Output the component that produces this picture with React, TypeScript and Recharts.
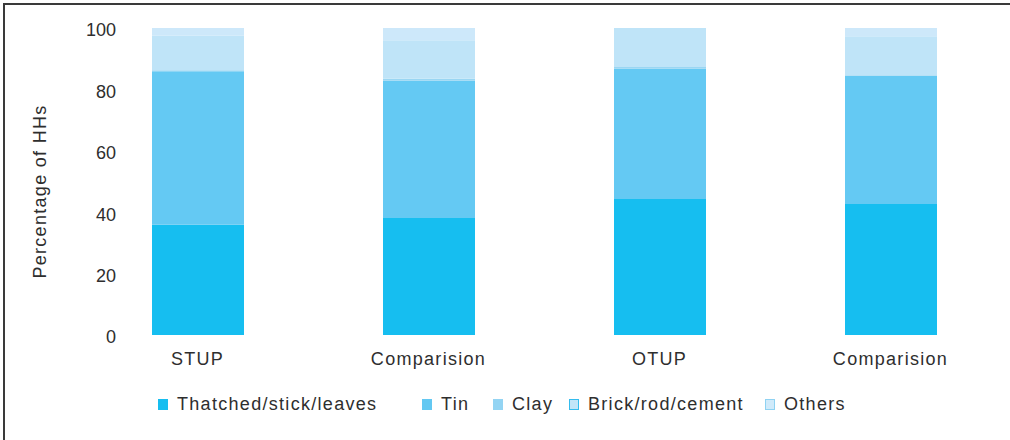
import React from 'react';
import { BarChart, Bar, XAxis, YAxis } from 'recharts';

const categories = ['STUP', 'Comparision', 'OTUP', 'Comparision'];
const thatched = [35.9, 38.1, 44.3, 42.7];
const tin = [50.0, 44.7, 42.4, 41.7];
const clay = [0.3, 0.7, 0.6, 0.2];
const brick = [11.3, 12.5, 12.7, 12.7];
const others = [2.5, 4.0, 0, 2.7];
const yTicks = [0, 20, 40, 60, 80, 100];
const seriesNames = ['Thatched/stick/leaves', 'Tin', 'Clay', 'Brick/rod/cement', 'Others'];

const data = categories.map((name, i) => ({
  name,
  thatched: thatched[i],
  tin: tin[i],
  clay: clay[i],
  brick: brick[i],
  others: others[i],
}));

const FONT = '"Liberation Sans", Arial, Helvetica, sans-serif';
const TEXT = '#2e2e2e';
const LS = 1.3;

const barFills = ['#16BEF0', '#64C9F3', '#9AD6F3', '#BFE4F8', '#CDE8FA'];
const legendFills = ['#16BEF0', '#63C8F2', '#93D4F3', '#C2E5F8', '#D0EAFA'];
const legendStrokes = ['#16BEF0', '#63C8F2', '#93D4F3', '#35BCEE', '#8FD2F2'];
const keys = ['thatched', 'tin', 'clay', 'brick', 'others'];

const YTick = (props: any) => {
  const { y, payload } = props;
  return (
    <text x={116} y={y + 2} dy="0.355em" textAnchor="end" fontSize={18} fill={TEXT} fontFamily={FONT}>
      {payload.value}
    </text>
  );
};

const XTick = (props: any) => {
  const { x, y, payload } = props;
  return (
    <text
      x={x}
      y={y}
      dy="0.71em"
      textAnchor="middle"
      fontSize={18}
      fill={TEXT}
      fontFamily={FONT}
      style={{ letterSpacing: `${LS}px` }}
    >
      {payload.value}
    </text>
  );
};

const YLabel = (props: any) => {
  const vb = props.viewBox || { y: 28, height: 307 };
  const cy = vb.y + vb.height / 2 + 10;
  return (
    <text
      x={40}
      y={cy}
      transform={`rotate(-90, 40, ${cy})`}
      textAnchor="middle"
      dominantBaseline="central"
      fontSize={18}
      fill={TEXT}
      fontFamily={FONT}
      style={{ letterSpacing: `${LS}px` }}
    >
      Percentage of HHs
    </text>
  );
};

const legendLeft = [158, 422, 493, 569, 765];

export default function App() {
  return (
    <div style={{ position: 'absolute', left: 0, top: 0, width: 1010, height: 440, overflow: 'hidden', background: '#ffffff' }}>
      <div style={{ position: 'absolute', left: 3, top: 3, width: 1007, height: 2, background: '#3a3a3a' }} />
      <div style={{ position: 'absolute', left: 3, top: 3, width: 2, height: 437, background: '#3a3a3a' }} />
      <div style={{ position: 'absolute', left: 0, top: 0 }}>
        <BarChart
          width={1010}
          height={440}
          data={data}
          margin={{ top: 28, right: 4, left: 0, bottom: 65 }}
          barSize={92}
        >
          <XAxis
            dataKey="name"
            axisLine={false}
            tickLine={false}
            tickSize={0}
            tickMargin={17}
            height={40}
            tick={<XTick />}
          />
          <YAxis
            domain={[0, 100]}
            ticks={yTicks}
            axisLine={false}
            tickLine={false}
            width={82}
            tick={<YTick />}
            label={<YLabel />}
          />
          {keys.map((k, i) => (
            <Bar key={k} dataKey={k} name={seriesNames[i]} stackId="a" fill={barFills[i]} isAnimationActive={false} />
          ))}
        </BarChart>
      </div>
      {seriesNames.map((n, i) => (
        <div
          key={n}
          style={{
            position: 'absolute',
            left: legendLeft[i],
            top: 394,
            display: 'flex',
            alignItems: 'center',
            fontFamily: FONT,
            fontSize: 18,
            letterSpacing: `${LS}px`,
            color: TEXT,
            whiteSpace: 'nowrap',
          }}
        >
          <span
            style={{
              display: 'inline-block',
              width: 8,
              height: 9,
              background: legendFills[i],
              border: `1.5px solid ${legendStrokes[i]}`,
              marginRight: 9,
            }}
          />
          <span>{n}</span>
        </div>
      ))}
    </div>
  );
}
